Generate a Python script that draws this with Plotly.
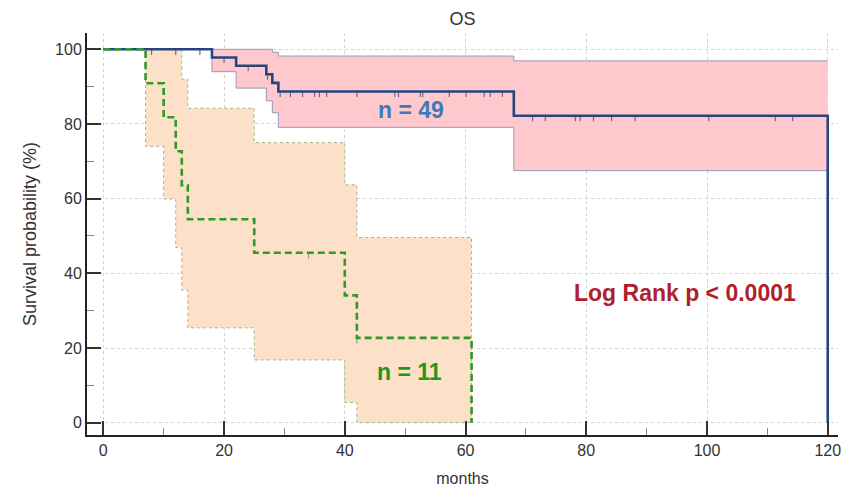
import plotly.graph_objects as go

# ---------------- data ----------------
# Group with n = 49 (blue)
blue_t = [0, 18, 22, 27, 28, 29, 68, 120]
blue_s = [100, 97.8, 95.6, 93.3, 91.0, 88.7, 82.2, 0]
blue_up_t = [0, 28, 29, 68, 120]
blue_up_s = [100, 99.2, 98.2, 96.9, 96.9]
blue_lo_t = [0, 18, 22, 27, 28, 29, 68, 120]
blue_lo_s = [100, 94.0, 89.6, 86.2, 83.0, 79.1, 67.5, 67.5]
blue_cens_t = [8, 12, 16, 20, 24, 27.2, 29.3, 31, 33, 35, 35.8, 37, 42, 48.3, 48.9,
               52.5, 52.9, 57.3, 60.1, 63.1, 64.1, 66.1,
               71.1, 73.2, 78.2, 79.0, 81.2, 84.2, 88.1, 100.3, 111.3, 114.2]

# Group with n = 11 (green)
green_t = [0, 7, 10, 12, 13, 14, 25, 40, 42, 61]
green_s = [100, 90.9, 81.8, 72.7, 63.6, 54.5, 45.5, 34.1, 22.7, 0]
green_up_t = [0, 13, 14, 25, 40, 42, 61]
green_up_s = [100, 92.0, 84.2, 75.0, 63.7, 49.6, 0]
green_lo_t = [0, 7, 10, 12, 13, 14, 25, 40, 42, 61]
green_lo_s = [100, 74.0, 59.9, 46.9, 35.5, 25.4, 16.8, 5.4, 0, 0]
green_cens_t = [34, 42]

x_ticks = [0, 20, 40, 60, 80, 100, 120]
y_ticks = [0, 20, 40, 60, 80, 100]


def km_value(ts, ss, t):
    v = ss[0]
    for ti, si in zip(ts, ss):
        if ti <= t:
            v = si
    return v


def censor_segments(ts, ss, cens, length=1.5):
    xs, ys = [], []
    for c in cens:
        v = km_value(ts, ss, c)
        xs += [c, c, None]
        ys += [v, v - length, None]
    return xs, ys


fig = go.Figure()

# Green confidence band
fig.add_trace(go.Scatter(x=green_lo_t, y=green_lo_s, mode="lines", line_shape="hv",
                         line=dict(color="#9cb88c", width=1, dash="dot"),
                         hoverinfo="skip", showlegend=False))
fig.add_trace(go.Scatter(x=green_up_t, y=green_up_s, mode="lines", line_shape="hv",
                         line=dict(color="#9cb88c", width=1, dash="dot"),
                         fill="tonexty", fillcolor="rgba(253,224,200,1)",
                         hoverinfo="skip", showlegend=False))

# Blue confidence band
fig.add_trace(go.Scatter(x=blue_lo_t, y=blue_lo_s, mode="lines", line_shape="hv",
                         line=dict(color="#9a98bc", width=1),
                         hoverinfo="skip", showlegend=False))
fig.add_trace(go.Scatter(x=blue_up_t, y=blue_up_s, mode="lines", line_shape="hv",
                         line=dict(color="#9a98bc", width=1),
                         fill="tonexty", fillcolor="rgba(255,200,204,1)",
                         hoverinfo="skip", showlegend=False))

# Censor marks
bx, by = censor_segments(blue_t, blue_s, blue_cens_t)
fig.add_trace(go.Scatter(x=bx, y=by, mode="lines", line=dict(color="#6c6c92", width=1.2),
                         hoverinfo="skip", showlegend=False))
gx, gy = censor_segments(green_t, green_s, green_cens_t)
fig.add_trace(go.Scatter(x=gx, y=gy, mode="lines", line=dict(color="#8a9a80", width=1.2),
                         hoverinfo="skip", showlegend=False))

# KM curves
fig.add_trace(go.Scatter(x=blue_t, y=blue_s, mode="lines", line_shape="hv",
                         line=dict(color="#26457f", width=2.6), name="n = 49",
                         showlegend=False))
fig.add_trace(go.Scatter(x=green_t, y=green_s, mode="lines", line_shape="hv",
                         line=dict(color="#2e9a2a", width=2.6, dash="7px,4px"), name="n = 11",
                         showlegend=False))

tick_font = dict(family="Liberation Sans, Arial, sans-serif", size=16, color="#333333")

fig.update_layout(
    width=852, height=489,
    margin=dict(l=87, r=14, t=33, b=54),
    paper_bgcolor="white", plot_bgcolor="white",
    font=dict(family="Liberation Sans, Arial, sans-serif", color="#333333"),
    title=dict(text="OS", x=0.5, xref="paper", xanchor="center", y=0.962, yanchor="middle",
               font=dict(size=18, color="#333333")),
    xaxis=dict(range=[-2.7, 121.7], tickvals=x_ticks, ticktext=[str(v) for v in x_ticks],
               automargin=False,
               showline=True, linecolor="#222222", linewidth=2,
               ticks="inside", ticklen=14, tickwidth=2, tickcolor="#333333",
               minor=dict(dtick=10, tick0=0, ticks="inside", ticklen=7, tickwidth=1,
                          tickcolor="#888888", showgrid=False),
               showgrid=True, gridcolor="#d2d2d2", griddash="dot", gridwidth=1,
               zeroline=False, tickfont=tick_font,
               title=dict(text="months", font=dict(size=16, color="#333333"), standoff=15)),
    yaxis=dict(range=[-3.3, 104.36], tickvals=y_ticks, ticktext=[str(v) for v in y_ticks],
               automargin=False,
               showline=True, linecolor="#222222", linewidth=2,
               ticks="inside", ticklen=14, tickwidth=2, tickcolor="#333333",
               minor=dict(dtick=10, tick0=0, ticks="inside", ticklen=7, tickwidth=1,
                          tickcolor="#888888", showgrid=False),
               showgrid=True, gridcolor="#d2d2d2", griddash="dot", gridwidth=1,
               zeroline=False, tickfont=tick_font,
               title=dict(text="Survival probability (%)", font=dict(size=18, color="#333333"),
                          standoff=14)),
)

fig.add_annotation(x=51.0, y=83.7, text="<b>n = 49</b>", showarrow=False,
                   font=dict(size=23, color="#3f79b8"), xanchor="center", yanchor="middle")
fig.add_annotation(x=50.8, y=13.7, text="<b>n = 11</b>", showarrow=False,
                   font=dict(size=23, color="#1f961f"), xanchor="center", yanchor="middle")
fig.add_annotation(x=96.3, y=34.6, text="<b>Log Rank p &lt; 0.0001</b>", showarrow=False,
                   font=dict(size=23, color="#b0202c"), xanchor="center", yanchor="middle")

fig.write_html("out.html", config={"displayModeBar": False},
               post_script="document.body.style.margin='0';document.body.style.overflow='hidden';")
